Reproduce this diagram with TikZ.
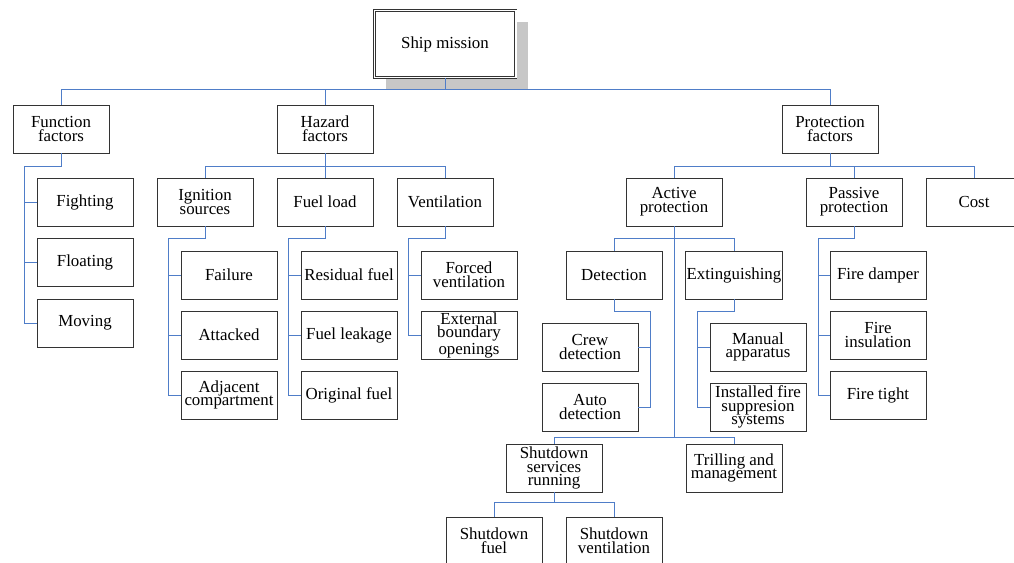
\documentclass[tikz,border=0pt]{standalone}
\usepackage{fontspec}
\setmainfont{Liberation Serif}
\usepackage{tikz}
\usetikzlibrary{shapes,shadows}
\usetikzlibrary{calc}
\definecolor{linkblue}{RGB}{79,125,200}
\tikzset{box/.style={ draw=black!80, line width=0.6pt, align=center,
            minimum width=24mm, minimum height=12mm, inner sep=1pt,
            font=\fontsize{12}{9.8}\selectfont },
            link/.style={ draw=linkblue, line width=0.7pt }}

\begin{document}
\begin{tikzpicture}[x=2.5mm,y=-2.5mm]
\useasboundingbox (0,0) rectangle (101.4,56.2);
\node [box, minimum width=35.4mm, minimum height=16.8mm, double=white, double distance=1pt,
    line width=0.7pt, fill=white,
    drop shadow={shadow xshift=3mm, shadow yshift=-3mm, fill=black!22, opacity=1}]
    (ship) at (44.5,4.4) {Ship mission};
%
\node [box] (func) at (6.1,12.9) {Function\\factors};
\node [box] (haz) at (32.5,12.9) {Hazard\\factors};
\node [box] (prot) at (83,12.9) {Protection\\factors};
\draw [link] (ship.south) -- ++(0,1.1) -| (func.north);
\draw [link] (ship.south) -- ++(0,1.1) -| (haz.north);
\draw [link] (ship.south) -- ++(0,1.1) -| (prot.north);
%
\node [box] (fight) at (8.5,20.2) {Fighting};
\node [box] (float) at (8.5,26.2) {Floating};
\node [box] (moving) at (8.5,32.3) {Moving};
\draw [link] (func.south) -- ++(0,1.3) -| ([xshift=-3mm]moving.west) -- (moving.west);
\draw [link] ([xshift=-3mm]fight.west) -- (fight.west);
\draw [link] ([xshift=-3mm]float.west) -- (float.west);
%
\node [box] (ign) at (20.5,20.2) {Ignition\\sources};
\node [box] (fuel) at (32.5,20.2) {Fuel load};
\node [box] (vent) at (44.5,20.2) {Ventilation};
\draw [link] (haz.south) -- ++(0,1.3) -| (ign.north);
\draw [link] (haz.south) -- (fuel.north);
\draw [link] (haz.south) -- ++(0,1.3) -| (vent.north);
%
\node [box] (fail) at (22.9,27.5) {Failure};
\node [box] (attack) at (22.9,33.5) {Attacked};
\node [box] (adj) at (22.9,39.5) {Adjacent\\compartment};
\draw [link] (ign.south) -- ++(0,1.2) -| ([xshift=-3mm]adj.west) -- (adj.west);
\draw [link] ([xshift=-3mm]fail.west) -- (fail.west);
\draw [link] ([xshift=-3mm]attack.west) -- (attack.west);
%
\node [box] (resid) at (34.9,27.5) {Residual fuel};
\node [box] (leak) at (34.9,33.5) {Fuel leakage};
\node [box] (orig) at (34.9,39.5) {Original fuel};
\draw [link] (fuel.south) -- ++(0,1.2) -| ([xshift=-3mm]orig.west) -- (orig.west);
\draw [link] ([xshift=-3mm]resid.west) -- (resid.west);
\draw [link] ([xshift=-3mm]leak.west) -- (leak.west);
%
\node [box] (forced) at (46.9,27.5) {Forced\\ventilation};
\node [box] (ext) at (46.9,33.5) {External\\boundary\\openings};
\draw [link] (vent.south) -- ++(0,1.2) -| ([xshift=-3mm]ext.west) -- (ext.west);
\draw [link] ([xshift=-3mm]forced.west) -- (forced.west);
%
\node [box] (active) at (67.4,20.2) {Active\\protection};
\node [box] (passive) at (85.4,20.2) {Passive\\protection};
\node [box] (cost) at (97.4,20.2) {Cost};
\draw [link] (prot.south) -- ++(0,1.3) -| (active.north);
\draw [link] (prot.south) -- ++(0,1.3) -| (passive.north);
\draw [link] (prot.south) -- ++(0,1.3) -| (cost.north);
%
\node [box] (detect) at (61.4,27.5) {Detection};
\node [box] (extin) at (73.4,27.5) {Extinguishing};
\draw [link] (active.south) -- ++(0,1.2) -| (detect.north);
\draw [link] (active.south) -- ++(0,1.2) -| (extin.north);
%
\node [box] (crew) at (59,34.7) {Crew\\detection};
\node [box] (auto) at (59,40.7) {Auto\\detection};
\draw [link] (detect.south) -- ++(0,1.2) -| ([xshift=3mm]auto.east) -- (auto.east);
\draw [link] ([xshift=3mm]crew.east) -- (crew.east);
%
\node [box] (manual) at (75.8,34.7) {Manual\\apparatus};
\node [box] (install) at (75.8,40.7) {Installed fire\\suppresion\\systems};
\draw [link] (extin.south) -- ++(0,1.2) -| ([xshift=-3mm]install.west) -- (install.west);
\draw [link] ([xshift=-3mm]manual.west) -- (manual.west);
%
\node [box] (damper) at (87.8,27.5) {Fire damper};
\node [box] (insul) at (87.8,33.5) {Fire\\insulation};
\node [box] (tight) at (87.8,39.5) {Fire tight};
\draw [link] (passive.south) -- ++(0,1.2) -| ([xshift=-2.8mm]tight.west) -- (tight.west);
\draw [link] ([xshift=-2.8mm]damper.west) -- (damper.west);
\draw [link] ([xshift=-2.8mm]insul.west) -- (insul.west);
%
\node [box] (shutdn) at (55.4,46.8) {Shutdown\\services\\running};
\node [box] (trill) at (73.4,46.8) {Trilling and\\management};
\draw [link] (active.south) -- ++(0,21.1) -| (shutdn.north);
\draw [link] (active.south) -- ++(0,21.1) -| (trill.north);
%
\node [box] (sfuel) at (49.4,54.1) {Shutdown\\fuel};
\node [box] (svent) at (61.4,54.1) {Shutdown\\ventilation};
\draw [link] (shutdn.south) -- ++(0,1) -| (sfuel.north);
\draw [link] (shutdn.south) -- ++(0,1) -| (svent.north);
\end{tikzpicture}
\end{document}
